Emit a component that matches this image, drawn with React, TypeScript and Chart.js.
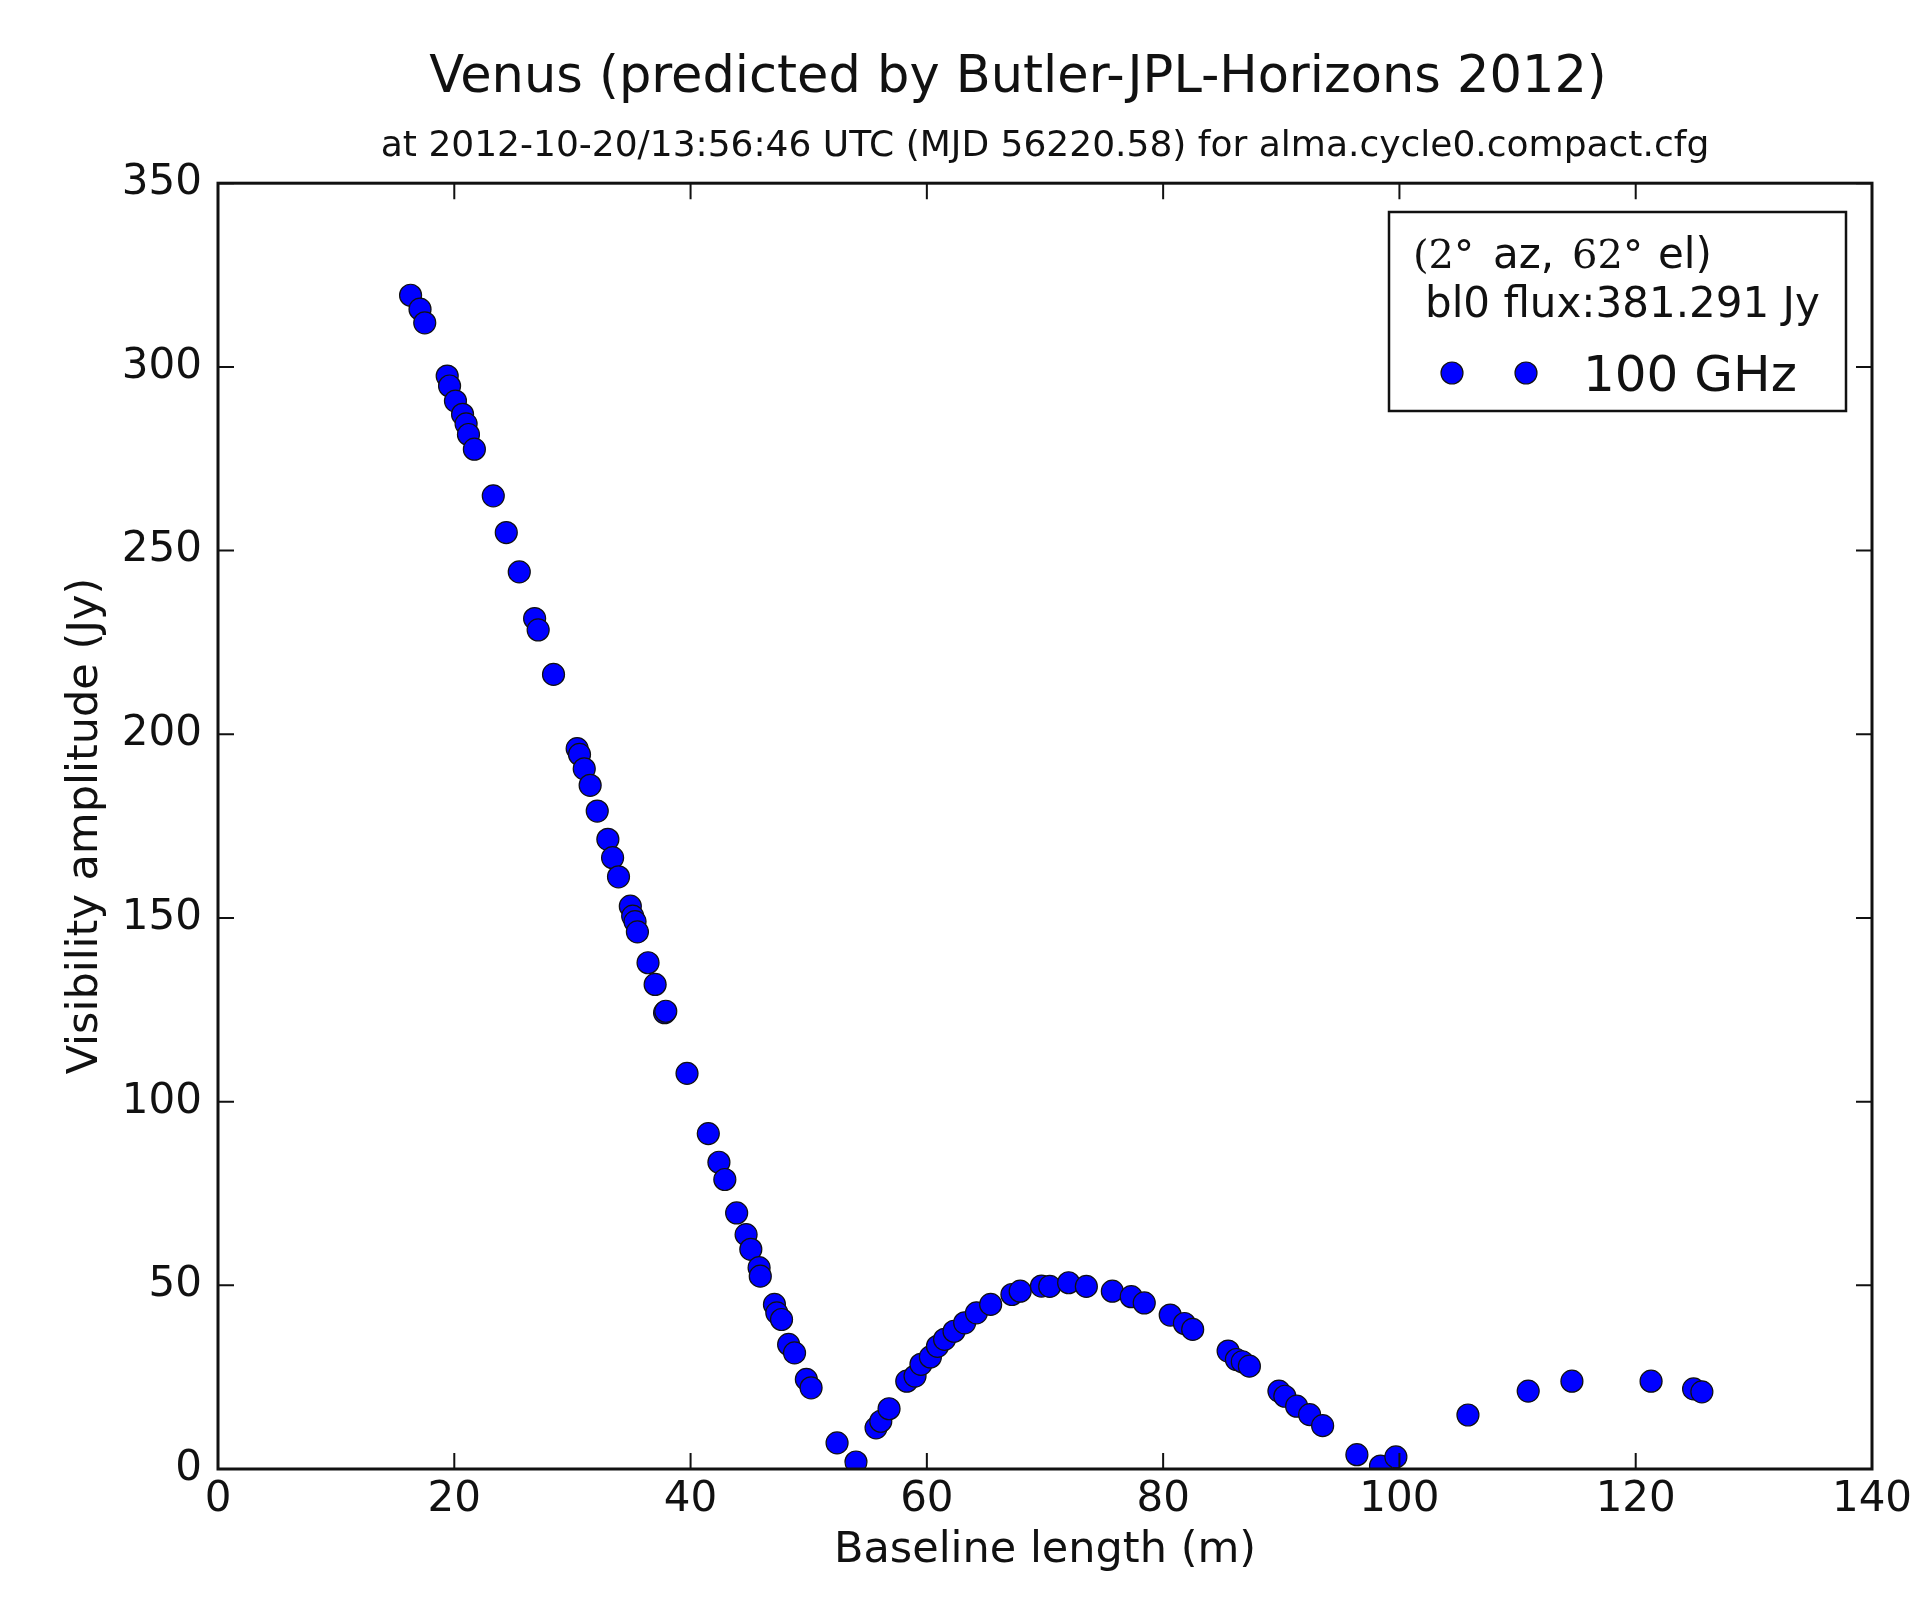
import React, { useEffect, useRef } from "react";
import { Chart, registerables } from "chart.js";

Chart.register(...registerables);

// ---- Data ----
const baselineLength: number[] = [
  16.3, 17.1, 17.5, 19.4, 19.6, 20.1, 20.7, 21.0, 21.2, 21.7,
  23.3, 24.4, 25.5, 26.8, 27.1, 28.4, 30.4, 30.6, 31.0, 31.5,
  32.1, 33.0, 33.4, 33.9, 34.9, 35.1, 35.3, 35.5, 36.4, 37.0,
  37.8, 37.9, 39.7, 41.5, 42.4, 42.9, 43.9, 44.7, 45.1, 45.8,
  45.9, 47.1, 47.3, 47.7, 48.3, 48.8, 49.8, 50.2, 52.4, 54.0,
  55.7, 56.1, 56.8, 58.3, 59.0, 59.5, 60.3, 60.9, 61.5, 62.3,
  63.2, 64.2, 65.4, 67.2, 67.9, 69.7, 70.4, 72.0, 73.5, 75.7,
  77.3, 78.4, 80.6, 81.8, 82.5, 85.5, 86.2, 86.7, 87.3, 89.8,
  90.3, 91.3, 92.4, 93.5, 96.4, 98.4, 99.7, 105.8, 110.9, 114.6,
  121.3, 124.9, 125.6,
];
const visibilityAmplitude: number[] = [
  319.5, 315.7, 312.0, 297.5, 294.8, 290.7, 287.1, 284.5, 281.6, 277.6,
  264.9, 254.9, 244.2, 231.5, 228.4, 216.3, 196.1, 194.5, 190.6, 186.1,
  179.1, 171.4, 166.4, 161.2, 153.2, 150.5, 149.0, 146.2, 137.8, 131.9,
  124.2, 124.6, 107.7, 91.3, 83.5, 78.8, 69.7, 63.8, 59.8, 54.8,
  52.5, 44.8, 42.5, 40.7, 33.9, 31.6, 24.4, 22.1, 7.1, 1.9,
  11.2, 13.0, 16.4, 23.9, 25.3, 28.5, 30.5, 33.4, 35.3, 37.5,
  39.8, 42.5, 44.8, 47.5, 48.4, 49.8, 49.7, 50.7, 49.7, 48.4,
  46.9, 45.2, 41.9, 39.6, 38.0, 32.1, 29.8, 29.2, 28.0, 21.2,
  19.8, 17.1, 14.8, 11.8, 3.9, 0.8, 3.3, 14.7, 21.2, 23.9,
  23.9, 21.8, 21.0,
];
const xTicks: number[] = [0, 20, 40, 60, 80, 100, 120, 140];
const yTicks: number[] = [0, 50, 100, 150, 200, 250, 300, 350];

const titleText = "Venus (predicted by Butler-JPL-Horizons 2012)";
const subtitleText = "at 2012-10-20/13:56:46 UTC (MJD 56220.58) for alma.cycle0.compact.cfg";
const xLabel = "Baseline length (m)";
const yLabel = "Visibility amplitude (Jy)";
const seriesLabel = "100 GHz";
const legendLine2 = "bl0 flux:381.291 Jy";

const SANS = "'DejaVu Sans', sans-serif";
const SERIF = "'DejaVu Serif', serif";
const TEXT = "#111";

const titlePlugin = {
  id: "mainTitle",
  afterDraw(chart: any) {
    const { ctx } = chart;
    ctx.save();
    ctx.fillStyle = TEXT;
    ctx.font = `51px ${SANS}`;
    ctx.textAlign = "center";
    ctx.textBaseline = "middle";
    ctx.fillText(titleText, 1018, 79);
    ctx.restore();
  },
};

const framePlugin = {
  id: "frameTicks",
  afterDatasetsDraw(chart: any) {
    const { ctx, chartArea: a, scales } = chart;
    const L = 16;
    ctx.save();
    ctx.strokeStyle = "#111";
    ctx.lineWidth = 2;
    ctx.beginPath();
    for (const v of xTicks) {
      const px = scales.x.getPixelForValue(v);
      ctx.moveTo(px, a.bottom);
      ctx.lineTo(px, a.bottom - L);
      ctx.moveTo(px, a.top);
      ctx.lineTo(px, a.top + L);
    }
    for (const v of yTicks) {
      const py = scales.y.getPixelForValue(v);
      ctx.moveTo(a.left, py);
      ctx.lineTo(a.left + L, py);
      ctx.moveTo(a.right, py);
      ctx.lineTo(a.right - L, py);
    }
    ctx.stroke();
    ctx.lineWidth = 3;
    ctx.strokeRect(a.left, a.top, a.right - a.left, a.bottom - a.top);
    ctx.restore();
  },
};

const legendPlugin = {
  id: "customLegend",
  afterDraw(chart: any) {
    const { ctx } = chart;
    const ds = chart.data.datasets[0];
    ctx.save();
    ctx.fillStyle = "#fff";
    ctx.fillRect(1389, 212, 457, 199);
    ctx.strokeStyle = "#111";
    ctx.lineWidth = 2.5;
    ctx.strokeRect(1389, 212, 457, 199);
    ctx.fillStyle = TEXT;
    ctx.textBaseline = "alphabetic";
    ctx.textAlign = "left";
    ctx.font = `40px ${SERIF}`;
    ctx.fillText("(2°", 1413, 268);
    ctx.font = `42px ${SANS}`;
    ctx.fillText("az,", 1493, 268);
    ctx.font = `40px ${SERIF}`;
    ctx.fillText("62°", 1572, 268);
    ctx.font = `42px ${SANS}`;
    ctx.fillText("el)", 1658, 268);
    ctx.fillText(legendLine2, 1425, 317);
    for (const cx of [1452, 1526]) {
      ctx.beginPath();
      ctx.arc(cx, 373, 11, 0, Math.PI * 2);
      ctx.fillStyle = ds.backgroundColor;
      ctx.fill();
      ctx.lineWidth = 1.2;
      ctx.strokeStyle = ds.borderColor;
      ctx.stroke();
    }
    ctx.fillStyle = TEXT;
    ctx.font = `50px ${SANS}`;
    ctx.fillText(seriesLabel, 1583, 391);
    ctx.restore();
  },
};

export default function App() {
  const ref = useRef<HTMLCanvasElement | null>(null);

  useEffect(() => {
    if (!ref.current) return;
    const points = baselineLength.map((x, i) => ({ x, y: visibilityAmplitude[i] }));
    const chart = new Chart(ref.current, {
      type: "scatter",
      data: {
        datasets: [
          {
            label: seriesLabel,
            data: points,
            backgroundColor: "#0000ff",
            borderColor: "#111",
            borderWidth: 1.2,
            pointRadius: 11,
            pointHoverRadius: 11,
            clip: 0,
          } as any,
        ],
      },
      plugins: [framePlugin, legendPlugin, titlePlugin],
      options: {
        responsive: false,
        animation: false,
        devicePixelRatio: 1,
        layout: { padding: { left: 0, right: 51, top: 106, bottom: 0 } },
        plugins: {
          legend: { display: false },
          tooltip: { enabled: false },
          title: { display: false },
          subtitle: {
            display: true,
            fullSize: false,
            text: subtitleText,
            color: TEXT,
            font: { family: SANS, size: 36, weight: "normal", lineHeight: 1.2 },
            padding: { top: 19, bottom: 15 },
          },
        },
        scales: {
          x: {
            type: "linear",
            min: 0,
            max: 140,
            afterFit: (s: any) => {
              s.height = 128;
            },
            afterBuildTicks: (s: any) => {
              s.ticks = xTicks.map((v) => ({ value: v }));
            },
            grid: { display: false, drawTicks: false },
            border: { display: false },
            ticks: {
              color: TEXT,
              padding: 6,
              font: { family: SANS, size: 42, lineHeight: 1.2 },
              maxRotation: 0,
            },
            title: {
              display: true,
              text: xLabel,
              color: TEXT,
              font: { family: SANS, size: 43, lineHeight: 1.2 },
              padding: { top: 0, bottom: 20 },
            },
          },
          y: {
            type: "linear",
            min: 0,
            max: 350,
            afterFit: (s: any) => {
              s.width = 218;
            },
            afterBuildTicks: (s: any) => {
              s.ticks = yTicks.map((v) => ({ value: v }));
            },
            grid: { display: false, drawTicks: false },
            border: { display: false },
            ticks: {
              color: TEXT,
              padding: 16,
              font: { family: SANS, size: 42, lineHeight: 1.2 },
            },
            title: {
              display: true,
              text: yLabel,
              color: TEXT,
              font: { family: SANS, size: 43, lineHeight: 1.2 },
              padding: { top: 60, bottom: 0 },
            },
          },
        },
      },
    });
    return () => chart.destroy();
  }, []);

  return (
    <div style={{ position: "absolute", left: 0, top: 0, width: 1923, height: 1597, background: "#fff" }}>
      <canvas ref={ref} width={1923} height={1597} style={{ display: "block" }} />
    </div>
  );
}
